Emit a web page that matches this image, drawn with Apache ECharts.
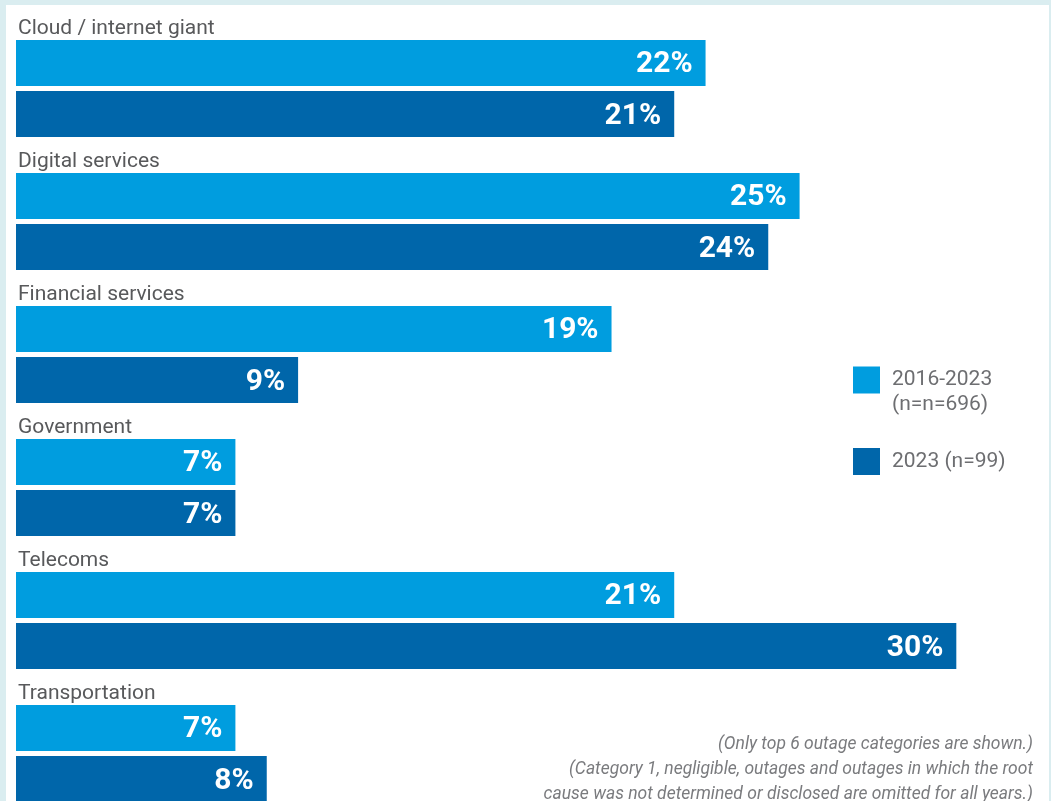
<!DOCTYPE html>
<html>
<head>
<meta charset="utf-8">
<script src="https://cdn.jsdelivr.net/npm/echarts@6/dist/echarts.min.js"></script>
<style>
  html, body { margin: 0; padding: 0; background: #daedf0; }
  #panel { position: absolute; left: 6px; top: 5px; width: 1043px; height: 796px; background: #ffffff; }
  #chart { position: absolute; left: 0; top: 0; width: 1051px; height: 801px; }
</style>
</head>
<body>
<div id="panel"></div>
<div id="chart"></div>
<script>
const categories = ['Cloud / internet giant', 'Digital services', 'Financial services', 'Government', 'Telecoms', 'Transportation'];
const seriesNames = ['2016-2023\n(n=n=696)', '2023 (n=99)'];
const valuesAll = [22, 25, 19, 7, 21, 7];
const values2023 = [21, 24, 9, 7, 30, 8];
const footnote = '(Only top 6 outage categories are shown.)\n(Category 1, negligible, outages and outages in which the root\ncause was not determined or disclosed are omitted for all years.)';

const colors = ['#009ddf', '#0066aa'];
const chart = echarts.init(document.getElementById('chart'), null, { renderer: 'canvas' });

const valueLabel = {
  show: true,
  position: 'insideRight',
  distance: 13,
  offset: [0, 2],
  formatter: '{c}%',
  color: '#ffffff',
  fontFamily: 'Roboto',
  fontWeight: 'bold',
  fontSize: 30
};

const legendRich = {
  t: { color: '#6d6e71', fontFamily: 'Roboto', fontSize: 21, lineHeight: 25, padding: [0, 0, 0, 7] },
  g: { fontSize: 18, lineHeight: 25 }
};

chart.setOption({
  animation: false,
  backgroundColor: 'transparent',
  grid: { left: 16, right: 32, top: 22, height: 798, containLabel: false, outerBoundsMode: 'none' },
  xAxis: { type: 'value', min: 0, max: 32, show: false },
  yAxis: {
    type: 'category',
    data: categories,
    inverse: true,
    z: 10,
    axisLine: { show: false },
    axisTick: { show: false },
    splitLine: { show: false },
    axisLabel: {
      inside: true,
      margin: 2,
      formatter: function (v) { return '{a|' + v + '}\n{g| }'; },
      rich: {
        a: { color: '#58595b', fontFamily: 'Roboto', fontSize: 21, lineHeight: 23 },
        g: { fontSize: 10, lineHeight: 119 }
      }
    }
  },
  legend: [
    {
      data: [seriesNames[0]],
      orient: 'vertical',
      left: 853,
      top: 346,
      padding: 0,
      itemWidth: 27,
      itemHeight: 27,
      icon: 'rect',
      formatter: function (n) {
        return '{g| }\n' + n.split('\n').map(function (s) { return '{t|' + s + '}'; }).join('\n');
      },
      textStyle: { rich: legendRich }
    },
    {
      data: [seriesNames[1]],
      orient: 'vertical',
      left: 853,
      top: 448,
      padding: 0,
      itemWidth: 27,
      itemHeight: 27,
      icon: 'rect',
      formatter: function (n) { return '{t|' + n + '}'; },
      textStyle: { rich: legendRich }
    }
  ],
  series: [
    {
      name: seriesNames[0],
      type: 'bar',
      data: valuesAll,
      barWidth: 46,
      barGap: '11%',
      itemStyle: { color: colors[0] },
      label: valueLabel
    },
    {
      name: seriesNames[1],
      type: 'bar',
      data: values2023,
      barWidth: 46,
      barGap: '11%',
      itemStyle: { color: colors[1] },
      label: valueLabel
    }
  ],
  graphic: [
    {
      type: 'text',
      right: 18,
      top: 732,
      style: {
        text: footnote,
        textAlign: 'right',
        fill: '#7a7b7e',
        font: 'italic 17.5px Roboto',
        lineHeight: 25
      }
    }
  ]
});
</script>
</body>
</html>
